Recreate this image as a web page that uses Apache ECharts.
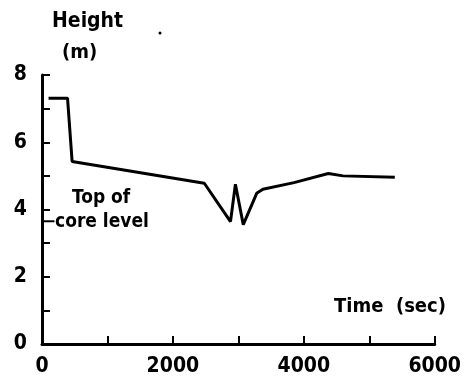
<!DOCTYPE html>
<html>
<head>
<meta charset="utf-8">
<script src="https://cdn.jsdelivr.net/npm/echarts@6/dist/echarts.min.js"></script>
<style>
html, body { margin: 0; padding: 0; background: #fff; }
#chart { width: 464px; height: 381px; }
</style>
</head>
<body>
<div id="chart"></div>
<script>
// values
var timeSec = [100, 390, 460, 2480, 2880, 2955, 3075, 3280, 3375, 3850, 4375, 4600, 5390];
var heightM = [7.31, 7.31, 5.43, 4.78, 3.64, 4.75, 3.55, 4.48, 4.6, 4.8, 5.07, 5.0, 4.96];
var coreTime = [0, 190];
var coreLevel = [3.65, 3.65];
var xLabels = [0, 2000, 4000, 6000];
var yLabels = [0, 2, 4, 6, 8];

var font = '"DejaVu Sans Condensed", "DejaVu Sans", sans-serif';
var myChart = echarts.init(document.getElementById('chart'));

myChart.setOption({
    animation: false,
    grid: { left: 42, right: 17, top: 75, bottom: 37 },
    xAxis: {
        type: 'value',
        min: 0,
        max: 6000,
        interval: 1000,
        axisLine: { lineStyle: { color: '#000', width: 3 } },
        axisTick: { inside: true, length: 8, lineStyle: { color: '#000', width: 2 } },
        axisLabel: {
            margin: 12,
            color: '#000',
            fontFamily: font,
            fontWeight: 'bold',
            fontSize: 21,
            formatter: function (v) {
                return xLabels.indexOf(v) >= 0 ? String(v) : '';
            }
        },
        splitLine: { show: false }
    },
    yAxis: {
        type: 'value',
        min: 0,
        max: 8,
        interval: 1,
        axisLine: { show: true, lineStyle: { color: '#000', width: 3 } },
        axisTick: { show: true, inside: true, length: 8, lineStyle: { color: '#000', width: 2 } },
        axisLabel: {
            margin: 15,
            color: '#000',
            fontFamily: font,
            fontWeight: 'bold',
            fontSize: 21,
            formatter: function (v) {
                return yLabels.indexOf(v) >= 0 ? String(v) : '';
            }
        },
        splitLine: { show: false }
    },
    series: [
        {
            type: 'line',
            data: timeSec.map(function (t, i) { return [t, heightM[i]]; }),
            showSymbol: false,
            lineStyle: { color: '#000', width: 3 }
        },
        {
            type: 'line',
            data: coreTime.map(function (t, i) { return [t, coreLevel[i]]; }),
            showSymbol: false,
            lineStyle: { color: '#000', width: 2 }
        }
    ],
    graphic: [
        { type: 'text', left: 52, top: 11, style: { text: 'Height', font: 'bold 21px ' + font, fill: '#000' } },
        { type: 'text', left: 62, top: 43, style: { text: '(m)', font: 'bold 20px ' + font, fill: '#000' } },
        { type: 'circle', shape: { cx: 160, cy: 33, r: 1.5 }, style: { fill: '#000' } },
        { type: 'text', left: 72, top: 189, style: { text: 'Top of', font: 'bold 19px ' + font, fill: '#000' } },
        { type: 'text', left: 55, top: 213, style: { text: 'core level', font: 'bold 19px ' + font, fill: '#000' } },
        { type: 'text', left: 334, top: 297, style: { text: 'Time  (sec)', font: 'bold 20px ' + font, fill: '#000' } }
    ]
});
</script>
</body>
</html>
